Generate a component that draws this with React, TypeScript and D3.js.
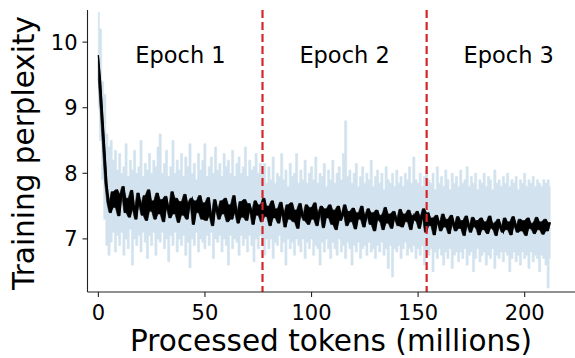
import React from 'react';
import * as d3 from 'd3';

// one sample per million tokens
const STEP = 1;

// smoothed perplexity (black)
const smoothed = [
  9.80, 9.42, 8.90, 8.38, 7.85, 7.55, 7.40, 7.72, 7.48, 7.75,
  7.35, 7.68, 7.80, 7.40, 7.62, 7.33, 7.74, 7.45, 7.30, 7.70,
  7.52, 7.36, 7.66, 7.28, 7.75, 7.42, 7.58, 7.30, 7.70, 7.38,
  7.60, 7.26, 7.65, 7.47, 7.32, 7.72, 7.38, 7.62, 7.25, 7.57,
  7.36, 7.68, 7.30, 7.55, 7.62, 7.22, 7.58, 7.40, 7.66, 7.30,
  7.55, 7.28, 7.63, 7.35, 7.20, 7.60, 7.44, 7.30, 7.58, 7.38,
  7.62, 7.26, 7.52, 7.30, 7.66, 7.40, 7.24, 7.57, 7.33, 7.60,
  7.28, 7.54, 7.42, 7.22, 7.58, 7.36, 7.52, 7.26, 7.62, 7.34,
  7.50, 7.20, 7.58, 7.32, 7.46, 7.24, 7.56, 7.38, 7.18, 7.52,
  7.30, 7.55, 7.26, 7.44, 7.16, 7.54, 7.36, 7.28, 7.52, 7.22,
  7.48, 7.30, 7.55, 7.20, 7.40, 7.50, 7.17, 7.46, 7.32, 7.52,
  7.22, 7.44, 7.14, 7.50, 7.28, 7.38, 7.52, 7.20, 7.42, 7.26,
  7.47, 7.15, 7.40, 7.30, 7.50, 7.18, 7.36, 7.46, 7.22, 7.40,
  7.12, 7.44, 7.28, 7.36, 7.14, 7.48, 7.24, 7.38, 7.16, 7.42,
  7.30, 7.20, 7.45, 7.18, 7.38, 7.26, 7.44, 7.14, 7.36, 7.28,
  7.42, 7.16, 7.34, 7.46, 7.10, 7.40, 7.20, 7.32, 7.06, 7.36,
  7.24, 7.12, 7.38, 7.18, 7.30, 7.08, 7.36, 7.22, 7.12, 7.34,
  7.16, 7.28, 7.05, 7.35, 7.20, 7.10, 7.33, 7.18, 7.28, 7.06,
  7.32, 7.14, 7.26, 7.08, 7.35, 7.16, 7.24, 7.05, 7.30, 7.18,
  7.10, 7.32, 7.14, 7.26, 7.06, 7.34, 7.20, 7.10, 7.30, 7.12,
  7.28, 7.05, 7.32, 7.16, 7.24, 7.08, 7.33, 7.14, 7.26, 7.07,
  7.30, 7.12, 7.25,
];

// raw perplexity, upper edge of the light blue
const rawHigh = [
  10.45, 10.2, 9.4, 9.2, 8.6, 8.4, 8.5, 8.2, 8.35, 8.05,
  8.3, 8.0, 8.1, 8.45, 7.95, 8.2, 8.05, 8.35, 8.0, 8.1,
  8.5, 7.95, 8.15, 8.05, 8.3, 8.0, 8.2, 8.1, 8.4, 8.6,
  8.0, 8.15, 8.35, 7.95, 8.1, 8.5, 8.0, 8.2, 8.05, 8.3,
  7.95, 8.25, 8.1, 8.45, 8.0, 8.15, 7.9, 8.3, 8.05, 8.2,
  8.45, 7.95, 8.1, 8.25, 8.0, 8.4, 8.05, 8.15, 7.95, 8.3,
  8.1, 8.2, 8.0, 8.35, 7.95, 8.15, 8.25, 8.0, 8.1, 8.4,
  7.95, 8.2, 8.05, 8.1, 8.3, 8.0, 8.15, 8.0, 8.15, 7.85,
  8.1, 7.9, 8.25, 7.85, 8.0, 7.95, 8.3, 7.9, 8.05, 7.8,
  8.15, 7.95, 8.0, 8.3, 7.85, 8.05, 7.9, 8.2, 7.85, 8.0,
  8.1, 7.9, 8.25, 7.85, 8.0, 7.95, 8.15, 7.8, 8.05, 7.9,
  8.2, 7.85, 8.0, 8.1, 7.9, 8.3, 8.8, 7.95, 8.05, 7.85,
  8.0, 8.15, 7.8, 7.95, 8.1, 7.85, 8.0, 7.9, 8.2, 7.8,
  7.95, 8.05, 7.85, 8.0, 7.75, 8.1, 7.9, 7.85, 8.0, 7.8,
  8.05, 7.85, 7.95, 7.8, 8.0, 7.9, 8.1, 7.85, 8.25, 7.9,
  7.85, 8.0, 7.8, 7.95, 8.05, 7.9, 7.85, 8.0, 7.75, 8.1,
  7.85, 7.95, 7.8, 8.05, 7.9, 7.75, 8.0, 7.85, 7.95, 7.8,
  8.05, 7.85, 7.9, 8.1, 7.8, 7.95, 7.85, 8.0, 7.75, 7.9,
  7.85, 8.0, 7.8, 7.95, 7.9, 7.75, 8.05, 7.85, 7.9, 7.8,
  7.95, 7.85, 8.0, 7.8, 7.9, 7.85, 7.95, 7.75, 7.9, 7.85,
  8.0, 7.8, 7.9, 7.85, 7.95, 7.8, 7.9, 7.85, 7.8, 7.9,
  7.85, 7.9, 7.8,
];

// raw perplexity, lower edge of the light blue
const rawLow = [
  9.0, 8.5, 7.9, 7.3, 6.9, 6.75, 6.95, 7.1, 6.8, 7.05,
  6.9, 7.1, 6.75, 7.0, 6.85, 7.15, 6.6, 7.0, 6.9, 7.05,
  6.8, 7.1, 6.95, 6.7, 7.05, 6.9, 7.1, 6.75, 7.0, 6.95,
  7.1, 6.85, 7.0, 6.65, 7.05, 6.9, 7.1, 6.8, 7.0, 6.9,
  7.05, 6.75, 6.95, 6.56, 7.0, 6.9, 7.1, 6.8, 7.0, 6.95,
  6.85, 7.05, 6.9, 7.1, 6.7, 7.0, 6.95, 7.05, 6.8, 7.0,
  6.9, 6.6, 7.05, 6.85, 7.0, 6.95, 6.75, 7.05, 6.9, 7.0,
  6.8, 7.05, 6.9, 6.65, 7.0, 6.85, 7.05, 6.9, 6.75, 7.0,
  6.85, 7.0, 6.7, 6.95, 6.9, 7.05, 6.8, 6.95, 6.6, 7.0,
  6.85, 6.95, 6.75, 7.0, 6.9, 6.8, 7.0, 6.7, 6.95, 6.85,
  7.0, 6.75, 6.9, 6.85, 6.6, 6.95, 6.8, 7.0, 6.85, 6.7,
  6.95, 6.85, 6.75, 7.0, 6.8, 6.9, 6.7, 6.95, 6.85, 6.6,
  6.9, 6.8, 6.95, 6.7, 6.85, 6.9, 6.75, 6.95, 6.8, 6.85,
  6.7, 6.9, 6.8, 6.95, 6.75, 6.85, 6.55, 6.9, 6.42, 6.85,
  6.8, 6.9, 6.7, 6.85, 6.95, 6.75, 6.85, 6.8, 6.9, 6.7,
  6.85, 6.75, 6.9, 6.6, 6.8, 6.75, 6.85, 6.5, 6.8, 6.7,
  6.85, 6.75, 6.6, 6.8, 6.7, 6.85, 6.55, 6.75, 6.8, 6.65,
  6.8, 6.7, 6.85, 6.6, 6.75, 6.8, 6.5, 6.7, 6.85, 6.65,
  6.75, 6.8, 6.6, 6.75, 6.7, 6.85, 6.55, 6.75, 6.7, 6.8,
  6.65, 6.8, 6.75, 6.5, 6.7, 6.8, 6.65, 6.75, 6.6, 6.8,
  6.7, 6.75, 6.55, 6.8, 6.65, 6.75, 6.7, 6.5, 6.75, 6.7,
  6.6, 6.25, 6.7,
];

const epochEnds = [77, 154];
const epochNames = ['Epoch 1', 'Epoch 2', 'Epoch 3'];
const EPOCH_LEN = 77;
const xTicks = [0, 50, 100, 150, 200];
const yTicks = [7, 8, 9, 10];

const W = 575;
const H = 358;
const FONT = 'DejaVu Sans';

export default function App() {
  const left = 87.5, right = 575, top = 10, bottom = 292;

  const x = d3.scaleLinear().domain([-5.1, 223.6]).range([left, right]);
  const y = d3.scaleLinear().domain([6.19, 10.49]).range([bottom, top]);

  const band = d3.area<number>()
    .x((d, i) => x(i * STEP))
    .y0((d, i) => y(rawLow[i]))
    .y1((d) => y(d))
    .curve(d3.curveStep);

  // the smoothed series swings between neighbours; fill each swing so it reads as a dense trace
  const next = (i: number) => smoothed[Math.min(i + 1, smoothed.length - 1)];
  const trace = d3.area<number>()
    .x((d, i) => x(i * STEP))
    .y0((d, i) => y(Math.min(d, next(i))))
    .y1((d, i) => y(Math.max(d, next(i))));

  const line = d3.line<number>()
    .x((d, i) => x(i * STEP))
    .y((d) => y(d));

  return (
    <svg width={W} height={H} style={{ position: 'absolute', left: 0, top: 0 }}>
      <defs>
        <clipPath id="plot">
          <rect x={left} y={top} width={right - left} height={bottom - top} />
        </clipPath>
      </defs>
      <g clipPath="url(#plot)">
        <path d={band(rawHigh) || ''} fill="#d2e3ef" stroke="#d2e3ef" strokeWidth={0.6} />
        <path d={trace(smoothed) || ''} fill="#000" stroke="#000" strokeWidth={0.6} />
        <path d={line(smoothed) || ''} fill="none" stroke="#000" strokeWidth={1.3} />
        {epochEnds.map((e) => (
          <line key={e} x1={x(e)} x2={x(e)} y1={top} y2={bottom}
            stroke="#d62728" strokeWidth={2.2} strokeDasharray="8,4" />
        ))}
      </g>

      {epochNames.map((name, i) => (
        <text key={name} x={x(EPOCH_LEN * i + EPOCH_LEN / 2)} y={y(9.68)}
          textAnchor="middle" fontFamily={FONT} fontSize={22.5} fill="#000">{name}</text>
      ))}

      {/* spines */}
      <line x1={left} x2={left} y1={top} y2={bottom} stroke="#222" strokeWidth={1.1} />
      <line x1={left} x2={right} y1={bottom} y2={bottom} stroke="#222" strokeWidth={1.1} />

      {xTicks.map((t) => (
        <g key={t} transform={`translate(${x(t)},${bottom})`}>
          <line y2={5} stroke="#222" strokeWidth={1.1} />
          <text y={28} textAnchor="middle" fontFamily={FONT} fontSize={21}>{t}</text>
        </g>
      ))}
      {yTicks.map((t) => (
        <g key={t} transform={`translate(${left},${y(t)})`}>
          <line x2={-5} stroke="#222" strokeWidth={1.1} />
          <text x={-10} dy="0.36em" textAnchor="end" fontFamily={FONT} fontSize={21}>{t}</text>
        </g>
      ))}

      <text x={331} y={351} textAnchor="middle" fontFamily={FONT} fontSize={29.5}>
        Processed tokens (millions)
      </text>
      <text transform={`translate(34,153) rotate(-90)`} textAnchor="middle"
        fontFamily={FONT} fontSize={29.5}>
        Training perplexity
      </text>
    </svg>
  );
}
